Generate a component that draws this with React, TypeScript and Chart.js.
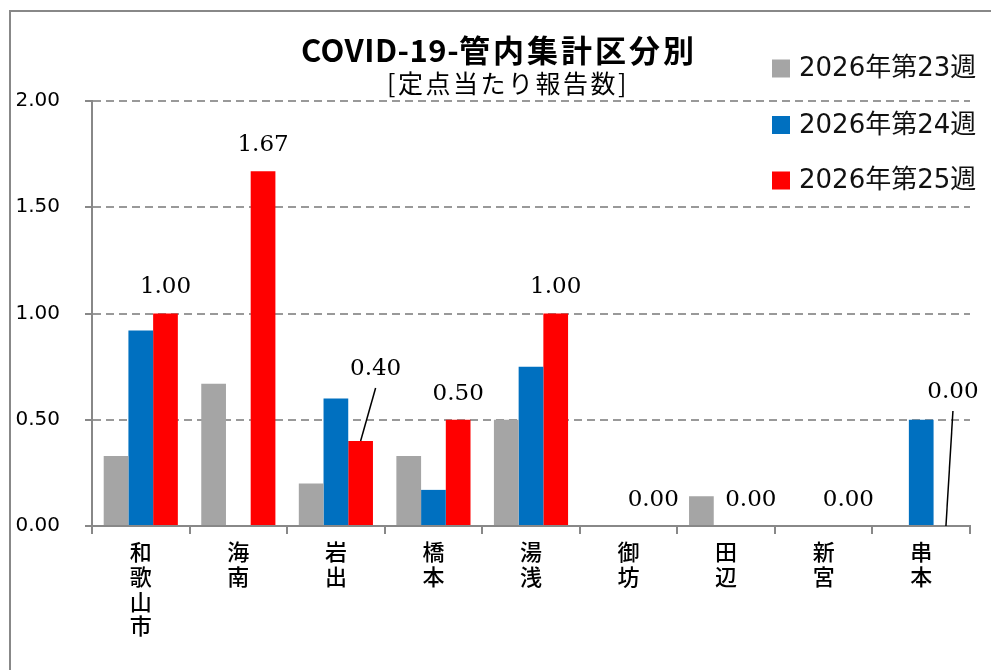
import React, { useEffect, useRef } from "react";
import { Chart, registerables } from "chart.js";

Chart.register(...registerables);

const categories = ["和歌山市", "海南", "岩出", "橋本", "湯浅", "御坊", "田辺", "新宮", "串本"];
const week23 = [0.33, 0.67, 0.2, 0.33, 0.5, 0, 0.14, 0, 0];
const week24 = [0.92, 0, 0.6, 0.17, 0.75, 0, 0, 0, 0.5];
const week25 = [1.0, 1.67, 0.4, 0.5, 1.0, 0, 0, 0, 0];
const seriesLabels = ["2026年第23週", "2026年第24週", "2026年第25週"];
const seriesColors = ["#A5A5A5", "#0070C0", "#FF0000"];
const yTickValues = [0, 0.5, 1.0, 1.5, 2.0];
const titleLatin = "COVID-19-";
const titleCJK = "管内集計区分別";
const subtitle = "[定点当たり報告数]";

// callout offsets (px) for labels drawn away from their bar, by category index
const callouts: Record<number, { dx: number; dy: number }> = {
  2: { dx: 15, dy: -72 },
  8: { dx: 7, dy: -134 },
};

const overlayPlugin = {
  id: "overlay",
  afterDraw(chart: any) {
    const ctx = chart.ctx as CanvasRenderingContext2D;
    ctx.save();
    // Title
    ctx.fillStyle = "#000";
    ctx.textBaseline = "alphabetic";
    ctx.textAlign = "left";
    ctx.font = 'bold 31px "Noto Sans CJK JP"';
    (ctx as any).letterSpacing = "0.5px";
    const wLatin = ctx.measureText(titleLatin).width;
    (ctx as any).letterSpacing = "3px";
    const wCJK = ctx.measureText(titleCJK).width;
    const titleStart = 488 - (wLatin + wCJK) / 2;
    (ctx as any).letterSpacing = "0.5px";
    ctx.fillText(titleLatin, titleStart, 50);
    (ctx as any).letterSpacing = "3px";
    ctx.fillText(titleCJK, titleStart + wLatin, 50);
    // Subtitle
    ctx.font = '25px "Noto Sans CJK JP"';
    (ctx as any).letterSpacing = "2.5px";
    const wSub = ctx.measureText(subtitle).width;
    ctx.fillText(subtitle, 497 - wSub / 2, 81);
    (ctx as any).letterSpacing = "0px";

    // Legend
    ctx.font = '26px "DejaVu Sans", "Noto Sans CJK JP"';
    ctx.textBaseline = "middle";
    const legendY = [56.5, 113, 168.5];
    seriesLabels.forEach((lab, i) => {
      ctx.fillStyle = seriesColors[i];
      ctx.fillRect(761, legendY[i] - 9, 18, 18);
      ctx.fillStyle = "#111";
      ctx.fillText(lab, 788, legendY[i] + 1);
    });

    // Data labels for last series
    const meta = chart.getDatasetMeta(2);
    ctx.font = '23px "DejaVu Serif"';
    ctx.textAlign = "center";
    ctx.textBaseline = "middle";
    ctx.fillStyle = "#000";
    ctx.strokeStyle = "#000";
    ctx.lineWidth = 1.5;
    meta.data.forEach((el: any, i: number) => {
      const v = week25[i];
      const txt = v.toFixed(2);
      const c = callouts[i];
      if (c) {
        const lx = el.x + c.dx;
        const ly = el.y + c.dy;
        ctx.beginPath();
        ctx.moveTo(el.x, el.y);
        ctx.lineTo(lx, ly + 19);
        ctx.stroke();
        ctx.fillText(txt, lx, ly);
      } else {
        ctx.fillText(txt, el.x, el.y - 26);
      }
    });
    ctx.restore();
  },
};

export default function App() {
  const ref = useRef<HTMLCanvasElement>(null);
  useEffect(() => {
    if (!ref.current) return;
    const chart = new Chart(ref.current, {
      type: "bar",
      data: {
        labels: categories.map((c) => c.split("")),
        datasets: [week23, week24, week25].map((d, i) => ({
          label: seriesLabels[i],
          data: d,
          backgroundColor: seriesColors[i],
          borderWidth: 0,
          categoryPercentage: 0.76,
          barPercentage: 1.0,
        })),
      },
      options: {
        responsive: false,
        animation: false,
        layout: { padding: { top: 89, right: 21, left: 0, bottom: 0 } },
        plugins: {
          legend: { display: false },
          title: { display: false },
          tooltip: { enabled: false },
        },
        scales: {
          x: {
            afterFit: (s: any) => {
              s.height = 144;
            },
            grid: {
              offset: true,
              drawOnChartArea: false,
              tickLength: 8,
              color: "#888",
              lineWidth: 2,
            },
            border: { color: "#888", width: 2 },
            ticks: {
              autoSkip: false,
              maxRotation: 0,
              minRotation: 0,
              padding: 5,
              color: "#000",
              font: { family: '"Noto Sans CJK JP"', size: 22, weight: "500", lineHeight: 1.13 },
            },
          },
          y: {
            min: 0,
            max: 2,
            afterFit: (s: any) => {
              s.width = 81;
            },
            afterBuildTicks: (s: any) => {
              s.ticks = yTickValues.map((v) => ({ value: v }));
            },
            grid: {
              color: "#999",
              lineWidth: 2,
              tickLength: 7,
              tickColor: "#888",
            },
            border: { color: "#888", width: 2, dash: [8, 5] },
            ticks: {
              padding: 25,
              color: "#000",
              font: { family: '"DejaVu Sans"', size: 20 },
              callback: (v: any) => Number(v).toFixed(2),
            },
          },
        },
      },
      plugins: [overlayPlugin],
    });
    return () => chart.destroy();
  }, []);

  return (
    <div
      style={{
        position: "fixed",
        left: 9,
        top: 10,
        width: 982,
        height: 660,
        borderLeft: "2px solid #888",
        borderTop: "2px solid #888",
        background: "#fff",
        boxSizing: "border-box",
      }}
    >
      <canvas ref={ref} width={980} height={658} style={{ display: "block", width: 980, height: 658 }} />
    </div>
  );
}
